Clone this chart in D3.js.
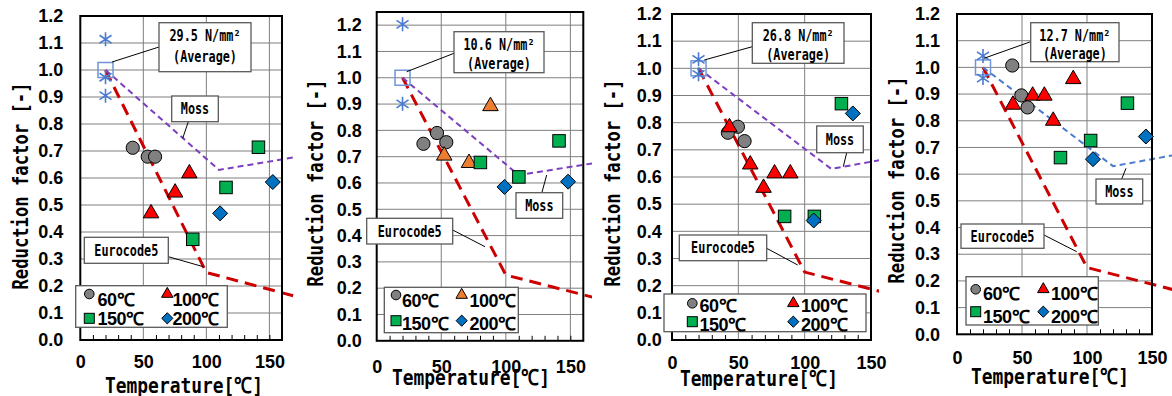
<!DOCTYPE html>
<html><head><meta charset="utf-8">
<script src="https://cdn.jsdelivr.net/npm/d3@7"></script>
<style>body{margin:0;background:#fff}svg{display:block}</style>
</head><body>
<svg id="chart" width="1172" height="396"></svg>
<script>
// ---------- data ----------
const xTicks = [0, 50, 100, 150];
const xMinorTicks = [10, 20, 30, 40, 60, 70, 80, 90, 110, 120, 130, 140, 150];
const yTicks = [0.0, 0.1, 0.2, 0.3, 0.4, 0.5, 0.6, 0.7, 0.8, 0.9, 1.0, 1.1, 1.2];
const legendLabels = ["60℃", "100℃", "150℃", "200℃"];
const xTitle = "Temperature[℃]";
const yTitle = "Reduction factor [-]";
const averagePoint = [20, 1.0];
const ec5Curve = [[20, 1.0], [100, 0.25], [300, 0.0]];
const mossCurveA = [[20, 1.0], [110, 0.63], [200, 0.70]];
const mossCurveB = [[20, 1.0], [120, 0.63], [200, 0.70]];
const averageLabels = ["29.5 N/mm²", "10.6 N/mm²", "26.8 N/mm²", "12.7 N/mm²"];

const p1Ref  = [[20, 1.114], [20, 0.973], [20, 0.905]];
const p1T60  = [[41.6, 0.712], [53.5, 0.679], [59.3, 0.679]];
const p1T100 = [[56.1, 0.469], [75.2, 0.546], [86.5, 0.617]];
const p1T150 = [[89.2, 0.373], [115.6, 0.565], [141.3, 0.714]];
const p1T200 = [[110.9, 0.469], [152.7, 0.585]];

const p2Ref  = [[20, 1.203], [20, 0.901]];
const p2T60  = [[36.2, 0.749], [46.7, 0.790], [53.9, 0.755]];
const p2T100 = [[52.3, 0.704], [71.5, 0.676], [88.1, 0.892]];
const p2T150 = [[80.3, 0.678], [110.1, 0.623], [141.2, 0.760]];
const p2T200 = [[99.0, 0.585], [148.2, 0.605]];

const p3Ref  = [[20, 1.033], [20, 0.978]];
const p3T60  = [[42.1, 0.763], [49.7, 0.785], [54.7, 0.732]];
const p3T100 = [[43.3, 0.783], [59.0, 0.646], [69.0, 0.560], [77.3, 0.613], [89.2, 0.613]];
const p3T150 = [[84.9, 0.455], [107.3, 0.455], [127.7, 0.870]];
const p3T200 = [[106.8, 0.440], [136.3, 0.834]];

const p4Ref  = [[20, 1.043], [20, 0.960]];
const p4T60  = [[42.5, 1.007], [49.5, 0.895], [54.3, 0.850]];
const p4T100 = [[43.0, 0.860], [58.2, 0.894], [67.2, 0.894], [74.0, 0.800], [89.4, 0.956]];
const p4T150 = [[79.6, 0.662], [102.8, 0.726], [131.1, 0.866]];
const p4T200 = [[104.6, 0.656], [145.3, 0.741]];

// ---------- layout ----------
const panels = [
  { ref: p1Ref, t60: p1T60, t100: p1T100, t150: p1T150, t200: p1T200, moss: mossCurveA,
    mossColor: "#7b3fc0", triColor: "#ff0000", avg: averageLabels[0],
    xr: [80.3, 282], xd: [0, 160], yr: [340, 16], yd: [0, 1.2], clipR: 296,
    yPad: 17, xPad: 15.5, xtb: 392.5, xtx: 184, ytb: 28, yty: 186,
    avgBox: [159, 22.7, 92, 49], avgRows: [12.3, 34], avgLead: [112, 62, 159, 47],
    mossBox: [171.7, 96, 46.6, 25.7], mossLead: [182.7, 138.3, 188.3, 121.7],
    ecBox: [84.3, 237.3, 84, 26], ecLead: [168.3, 256.7, 203.3, 266.7],
    leg: [75.7, 285.7, 151.6, 41.6], legCols: [89.3, 97.5, 167.3, 172.5], legMy: [8.3, 32.6], legTy: [20, 38.8] },
  { ref: p2Ref, t60: p2T60, t100: p2T100, t150: p2T150, t200: p2T200, moss: mossCurveA,
    mossColor: "#7b3fc0", triColor: "#ed7d31", avg: averageLabels[1],
    xr: [376.7, 583.3], xd: [0, 160], yr: [340.8, 12], yd: [0, 1.25], clipR: 592,
    yPad: 15, xPad: 19.5, xtb: 385, xtx: 471, ytb: 323, yty: 183,
    avgBox: [454, 31.7, 90, 41], avgRows: [12.5, 31.5], avgLead: [406.7, 71.7, 454, 53.3],
    mossBox: [516, 192.7, 46.7, 25.6], mossLead: [541.7, 193.3, 546.7, 175],
    ecBox: [366.7, 218.3, 86, 25.7], ecLead: [452.7, 230, 485, 246.7],
    leg: [384.3, 287.3, 134, 45.4], legCols: [396, 402, 461.7, 469.5], legMy: [7.7, 33.4], legTy: [20, 42.5] },
  { ref: p3Ref, t60: p3T60, t100: p3T100, t150: p3T150, t200: p3T200, moss: mossCurveB,
    mossColor: "#7b3fc0", triColor: "#ff0000", avg: averageLabels[2],
    xr: [672, 871], xd: [0, 150], yr: [340, 14], yd: [0, 1.2], clipR: 879,
    yPad: 10.3, xPad: 16.5, xtb: 386, xtx: 759, ytb: 620, yty: 183,
    avgBox: [752.3, 22.7, 91.7, 40.6], avgRows: [12.5, 31.5], avgLead: [704.3, 60, 752.3, 46.7],
    mossBox: [816.7, 126, 46.6, 26.7], mossLead: [846.7, 152.7, 843.3, 166.7],
    ecBox: [679.3, 235, 87.4, 25.7], ecLead: [766.7, 248.3, 797.7, 265],
    leg: [664, 294, 202, 37.7], legCols: [692.3, 699.5, 793.3, 801], legMy: [9.3, 27.7], legTy: [18, 36.5] },
  { ref: p4Ref, t60: p4T60, t100: p4T100, t150: p4T150, t200: p4T200, moss: mossCurveB,
    mossColor: "#4a7bd0", triColor: "#ff0000", avg: averageLabels[3],
    xr: [957, 1152], xd: [0, 150], yr: [334.3, 14], yd: [0, 1.2], clipR: 1172,
    yPad: 17, xPad: 17, xtb: 383.5, xtx: 1050, ytb: 904, yty: 180,
    avgBox: [1030.7, 22.7, 88.3, 39], avgRows: [12.5, 31], avgLead: [984, 58.3, 1030.7, 41.7],
    mossBox: [1096, 179, 46.7, 25], mossLead: [1121.7, 179, 1126, 168.3],
    ecBox: [961, 224, 83, 24.3], ecLead: [1044, 235, 1076.7, 251.7],
    leg: [966, 276.7, 132.3, 48.3], legCols: [975.7, 983, 1043.3, 1051], legMy: [12.6, 35], legTy: [22.8, 45.8] }
];

const svg = d3.select("#chart");
const tickFont = "'Liberation Sans', Arial, sans-serif";
const monoFont = "'DejaVu Sans Mono', 'Liberation Mono', monospace";

function triPath(s) {
  const h = s * Math.sqrt(3) / 2;
  return `M0,${-2 * h / 3}L${s / 2},${h / 3}L${-s / 2},${h / 3}Z`;
}
function diaPath(d) { return `M0,${-d}L${d},0L0,${d}L${-d},0Z`; }

function drawMarker(g, type, cx, cy, big, color) {
  const m = g.append("g").attr("transform", `translate(${cx},${cy})`);
  if (type === "c") m.append("circle").attr("r", big ? 6.6 : 4.8).attr("fill", "#808080").attr("stroke", "#000").attr("stroke-width", 1);
  if (type === "t") m.append("path").attr("d", triPath(big ? 15.5 : 11.5)).attr("fill", color).attr("stroke", "#000").attr("stroke-width", 1);
  if (type === "s") { const s = big ? 12.5 : 10; m.append("rect").attr("x", -s / 2).attr("y", -s / 2).attr("width", s).attr("height", s).attr("fill", "#00b050").attr("stroke", "#000").attr("stroke-width", 1); }
  if (type === "d") m.append("path").attr("d", diaPath(big ? 7.5 : 5.6)).attr("fill", "#0070c0").attr("stroke", "#000").attr("stroke-width", 1);
}

function monoText(g, txt, x, y, fs, perChar) {
  return g.append("text").attr("x", x).attr("y", y).attr("text-anchor", "middle")
    .attr("font-family", monoFont).attr("font-weight", "bold").attr("font-size", fs)
    .attr("textLength", txt.length * perChar).attr("lengthAdjust", "spacingAndGlyphs").text(txt);
}

panels.forEach((p, i) => {
  const x = d3.scaleLinear().domain(p.xd).range(p.xr);
  const y = d3.scaleLinear().domain(p.yd).range(p.yr);
  const g = svg.append("g");
  const x0 = p.xr[0], x1 = p.xr[1], yb = p.yr[0], yt = p.yr[1];

  // grid
  g.append("g").selectAll("line").data(yTicks.filter(v => v > 0)).join("line")
    .attr("x1", x0).attr("x2", x1).attr("y1", d => y(d)).attr("y2", d => y(d))
    .attr("stroke", "#7f7f7f").attr("stroke-width", 1);
  g.append("g").selectAll("line").data(xTicks.filter(v => v > p.xd[0] && v < p.xd[1] - 1)).join("line")
    .attr("x1", d => x(d)).attr("x2", d => x(d)).attr("y1", yt).attr("y2", yb)
    .attr("stroke", "#7f7f7f").attr("stroke-width", 1);

  // minor ticks
  g.append("g").attr("transform", `translate(0,${yb})`)
    .call(d3.axisBottom(x).tickValues(xMinorTicks.filter(v => v < p.xd[1])).tickSize(-5).tickFormat(""))
    .call(a => a.select(".domain").remove())
    .call(a => a.selectAll("line").attr("stroke", "#000"));

  // axes labels
  g.append("g").attr("transform", `translate(0,${yb})`)
    .call(d3.axisBottom(x).tickValues(xTicks).tickSize(0).tickPadding(p.xPad))
    .call(a => a.select(".domain").remove())
    .call(a => a.selectAll("text").attr("font-family", tickFont).attr("font-weight", "bold").attr("font-size", 18).attr("fill", "#000"));
  g.append("g").attr("transform", `translate(${x0},0)`)
    .call(d3.axisLeft(y).tickValues(yTicks).tickSize(0).tickPadding(p.yPad).tickFormat(d3.format(".1f")))
    .call(a => a.select(".domain").remove())
    .call(a => a.selectAll("text").attr("font-family", tickFont).attr("font-weight", "bold").attr("font-size", 18).attr("fill", "#000"));

  // titles
  monoText(g, xTitle, p.xtx, p.xtb, 22, 158 / xTitle.length);
  const yt_g = g.append("g").attr("transform", `translate(${p.ytb},${p.yty}) rotate(-90)`);
  monoText(yt_g, yTitle, 0, 0, 22, 207 / yTitle.length);

  // clipped curves
  const cid = "clip" + i;
  svg.append("clipPath").attr("id", cid).append("rect")
    .attr("x", x0).attr("y", 0).attr("width", p.clipR - x0).attr("height", yb);
  const lg = g.append("g").attr("clip-path", `url(#${cid})`);
  const line = d3.line().x(d => x(d[0])).y(d => y(d[1]));
  lg.append("path").attr("d", line(ec5Curve)).attr("fill", "none")
    .attr("stroke", "#cc0000").attr("stroke-width", 3).attr("stroke-dasharray", "12,7");
  lg.append("path").attr("d", line(p.moss)).attr("fill", "none")
    .attr("stroke", p.mossColor).attr("stroke-width", 2).attr("stroke-dasharray", "6,4");

  // frame
  g.append("rect").attr("x", x0).attr("y", yt).attr("width", x1 - x0).attr("height", yb - yt)
    .attr("fill", "none").attr("stroke", "#000").attr("stroke-width", 2);

  // reference average square & asterisks
  g.append("rect").attr("x", x(averagePoint[0]) - 7.5).attr("y", y(averagePoint[1]) - 7.5)
    .attr("width", 15).attr("height", 15).attr("fill", "none").attr("stroke", "#6f95d8").attr("stroke-width", 1.5);
  p.ref.forEach(d => {
    g.append("path").attr("transform", `translate(${x(d[0])},${y(d[1])})`)
      .attr("d", "M0,-7L0,7M-6,-4L6,4M-6,4L6,-4")
      .attr("stroke", "#4a7bd0").attr("stroke-width", 1.6).attr("fill", "none");
  });

  // data markers
  p.t60.forEach(d => drawMarker(g, "c", x(d[0]), y(d[1]), true));
  p.t100.forEach(d => drawMarker(g, "t", x(d[0]), y(d[1]), true, p.triColor));
  p.t150.forEach(d => drawMarker(g, "s", x(d[0]), y(d[1]), true));
  p.t200.forEach(d => drawMarker(g, "d", x(d[0]), y(d[1]), true));

  // annotation boxes
  function box(b, lead, lines, rows) {
    g.append("line").attr("x1", lead[0]).attr("y1", lead[1]).attr("x2", lead[2]).attr("y2", lead[3])
      .attr("stroke", "#000").attr("stroke-width", 1);
    g.append("rect").attr("x", b[0]).attr("y", b[1]).attr("width", b[2]).attr("height", b[3])
      .attr("fill", "#fff").attr("stroke", "#595959").attr("stroke-width", 1.3);
    lines.forEach((t, k) => monoText(g, t, b[0] + b[2] / 2, b[1] + rows[k] + 5.5, 15.5, 7.1));
  }
  box(p.avgBox, p.avgLead, [p.avg, "(Average)"], p.avgRows);
  box(p.mossBox, p.mossLead, ["Moss"], [p.mossBox[3] / 2]);
  box(p.ecBox, p.ecLead, ["Eurocode5"], [p.ecBox[3] / 2]);

  // legend
  const L = p.leg;
  g.append("rect").attr("x", L[0]).attr("y", L[1]).attr("width", L[2]).attr("height", L[3])
    .attr("fill", "#fff").attr("stroke", "#595959").attr("stroke-width", 1.3);
  const types = ["c", "t", "s", "d"];
  types.forEach((t, k) => {
    const col = k % 2, row = Math.floor(k / 2);
    const mx = p.legCols[col * 2], tx = p.legCols[col * 2 + 1];
    drawMarker(g, t, mx, L[1] + p.legMy[row], false, p.triColor);
    g.append("text").attr("x", tx).attr("y", L[1] + p.legTy[row])
      .attr("font-family", tickFont).attr("font-weight", "bold").attr("font-size", 18)
      .attr("letter-spacing", -0.5)
      .text(legendLabels[k]);
  });
});
</script>
</body></html>
